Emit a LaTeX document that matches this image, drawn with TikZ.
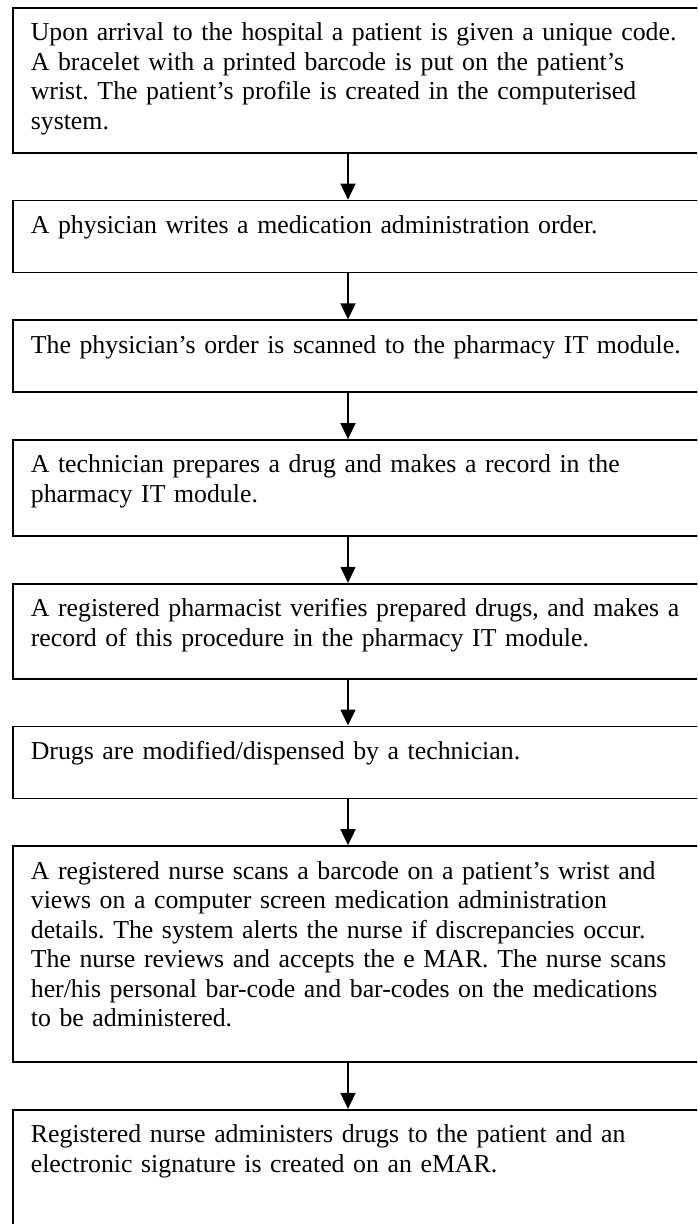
\documentclass[tikz,border=0pt]{standalone}
\usepackage{fontspec}
\setmainfont{Liberation Serif}
\usetikzlibrary{positioning,arrows.meta}

\tikzset{
  stepbox/.style={draw, line width=1.7pt, rectangle, text width=680pt, align=left,
    inner xsep=18pt, inner ysep=0pt, text height=33pt,
    font=\fontsize{25.8}{29.5}\selectfont},
  flow/.style={line width=1.5pt, -{Triangle[length=16pt,width=15pt]}}
}

\begin{document}
\frenchspacing
\begin{tikzpicture}[x=1pt, y=1pt, node distance=46pt]
    \useasboundingbox (0,0) rectangle (697,-1224);
    \clip (0,0) rectangle (697,-1224);
    \coordinate (axis) at (348,0);
    \node[stepbox, text depth=112pt, anchor=north west] (admit) at (12,-7)
        {Upon arrival to the hospital a patient is given a unique code.\\
         A bracelet with a printed barcode is put on the patient's\\
         wrist. The patient's profile is created in the computerised\\
         system.};
    \node[stepbox, text depth=39pt, below=of admit] (order)
        {A physician writes a medication administration order.};
    \node[stepbox, text depth=39pt, below=of order] (scan)
        {The physician's order is scanned to the pharmacy IT module.};
    \node[stepbox, text depth=63pt, below=of scan] (prep)
        {A technician prepares a drug and makes a record in the\\
         pharmacy IT module.};
    \node[stepbox, text depth=62pt, below=of prep] (verify)
        {A registered pharmacist verifies prepared drugs, and makes a\\
         record of this procedure in the pharmacy IT module.};
    \node[stepbox, text depth=39pt, below=of verify] (dispense)
        {Drugs are modified/dispensed by a technician.};
    \node[stepbox, text depth=183pt, below=of dispense] (nurse)
        {A registered nurse scans a barcode on a patient's wrist and\\
         views on a computer screen medication administration\\
         details. The system alerts the nurse if discrepancies occur.\\
         The nurse reviews and accepts the e MAR. The nurse scans\\
         her/his personal bar-code and bar-codes on the medications\\
         to be administered.};
    \node[stepbox, text depth=117pt, below=of nurse] (administer)
        {Registered nurse administers drugs to the patient and an\\
         electronic signature is created on an eMAR.};
    % arrows down the middle
    \foreach \a/\b in {admit/order, order/scan, scan/prep, prep/verify,
                       verify/dispense, dispense/nurse, nurse/administer}
        \draw[flow] (\a.south -| axis) -- (\b.north -| axis);
\end{tikzpicture}
\end{document}
